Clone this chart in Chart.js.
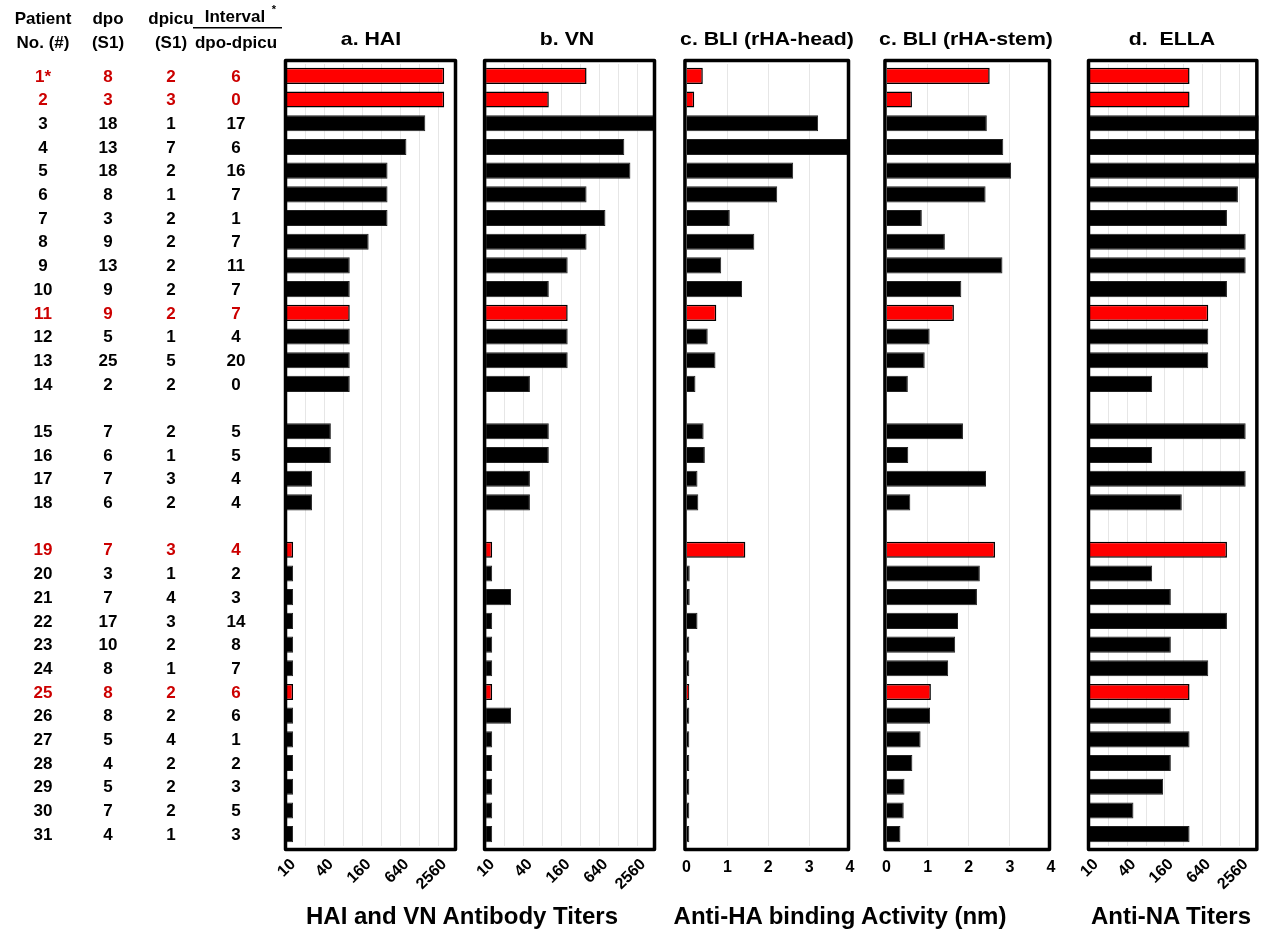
<!DOCTYPE html>
<html>
<head>
<meta charset="utf-8">
<script src="https://cdn.jsdelivr.net/npm/chart.js@4.4.1/dist/chart.umd.min.js"></script>
<style>
  body { margin: 0; background: #fff; width: 1269px; height: 936px; position: relative; overflow: hidden;
         font-family: "Liberation Sans", Arial, sans-serif; color: #000; }
  canvas { position: absolute; top: 0; }
  .title { position: absolute; top: 28px; font-weight: bold; font-size: 19px; white-space: nowrap; transform: translateX(-50%) scaleX(1.12); }
  .xlabel { position: absolute; top: 902px; font-weight: bold; font-size: 24px; white-space: nowrap; transform: translateX(-50%); }
</style>
</head>
<body>
<canvas id="hai" width="470" height="936" style="left:0"></canvas>
<canvas id="vn" width="200" height="936" style="left:470px"></canvas>
<canvas id="head" width="200" height="936" style="left:670px"></canvas>
<canvas id="stem" width="200" height="936" style="left:870px"></canvas>
<canvas id="ella" width="199" height="936" style="left:1070px"></canvas>

<div class="title" style="left:371px">a. HAI</div>
<div class="title" style="left:567px">b. VN</div>
<div class="title" style="left:767px">c. BLI (rHA-head)</div>
<div class="title" style="left:966px">c. BLI (rHA-stem)</div>
<div class="title" style="left:1172px">d.&nbsp; ELLA</div>

<div class="xlabel" style="left:462px">HAI and VN Antibody Titers</div>
<div class="xlabel" style="left:840px">Anti-HA binding Activity (nm)</div>
<div class="xlabel" style="left:1171px">Anti-NA Titers</div>

<script>
// patient table
const patients = ['1*','2','3','4','5','6','7','8','9','10','11','12','13','14',
                  '15','16','17','18',
                  '19','20','21','22','23','24','25','26','27','28','29','30','31'];
const dpo      = [8,3,18,13,18,8,3,9,13,9,9,5,25,2, 7,6,7,6, 7,3,7,17,10,8,8,8,5,4,5,7,4];
const dpicu    = [2,3,1,7,2,1,2,2,2,2,2,1,5,2, 2,1,3,2, 3,1,4,3,2,1,2,2,4,2,2,2,1];
const interval = [6,0,17,6,16,7,1,7,11,7,7,4,20,0, 5,5,4,4, 4,2,3,14,8,7,6,6,1,2,3,5,3];
const highlighted = ['1*','2','11','19','25'];
const groupSizes = [14, 4, 13];   // blank row between groups

// measurements (one value per patient)
const haiTiters  = [2560,2560,1280,640,320,320,320,160,80,80,80,80,80,80, 40,40,20,20, 10,10,10,10,10,10,10,10,10,10,10,10,10];
const vnTiters   = [320,80,5120,1280,1600,320,640,320,160,80,160,160,160,40, 80,80,40,40, 10,10,20,10,10,10,10,20,10,10,10,10,10];
const bliHead    = [0.40,0.19,3.22,4.2,2.61,2.22,1.06,1.66,0.85,1.36,0.73,0.52,0.71,0.22, 0.42,0.45,0.27,0.29,
                    1.44,0.08,0.08,0.27,0.07,0.07,0.07,0.07,0.07,0.07,0.07,0.07,0.07];
const bliStem    = [2.51,0.62,2.44,2.84,3.03,2.41,0.86,1.42,2.82,1.82,1.64,1.05,0.93,0.52, 1.86,0.53,2.42,0.58,
                    2.64,2.27,2.20,1.74,1.67,1.50,1.08,1.06,0.83,0.63,0.44,0.42,0.34];
const ellaTiters = [320,320,5120,5120,5120,1920,1280,2560,2560,1280,640,640,640,80, 2560,80,2560,240,
                    1280,80,160,1280,160,640,320,160,320,160,120,40,320];

// axes
const titerMin = 8, titerMax = 4096;
const titerGridLines = [16, 32, 64, 128, 256, 512, 1024, 2048];
const titerTickLabels = [10, 40, 160, 640, 2560];
const bliTicks = [0, 1, 2, 3, 4];

const FONT = '"Liberation Sans", Arial, sans-serif';

// insert the blank rows between patient groups
function withGaps(arr) {
  const out = [];
  let k = 0;
  groupSizes.forEach((n, g) => {
    if (g > 0) out.push(null);
    for (let i = 0; i < n; i++) out.push(arr[k++]);
  });
  return out;
}
const rowLabels = withGaps(patients);
const rowIndex = withGaps(patients.map((p, i) => i));

const fillColors = rowLabels.map(p => highlighted.includes(p) ? '#ff0000' : '#000000');
const edgeColors = rowLabels.map(p => highlighted.includes(p) ? '#000000' : '#222222');
const edgeWidths = rowLabels.map(p => highlighted.includes(p) ? 1.5 : 1);

const framePlugin = {
  id: 'frame',
  afterDatasetsDraw(chart) {
    const { ctx, chartArea: a } = chart;
    ctx.save();
    ctx.lineWidth = 3.5;
    ctx.lineJoin = 'round';
    ctx.strokeStyle = '#000';
    ctx.strokeRect(a.left - 1.5, a.top - 3.5, a.right - a.left, a.bottom - a.top + 7);
    ctx.restore();
  }
};

const tablePlugin = {
  id: 'patientTable',
  afterDraw(chart) {
    const ctx = chart.ctx, y = chart.scales.y;
    const cols = [43, 108, 171, 236];
    ctx.save();
    ctx.fillStyle = '#000';
    ctx.textAlign = 'center';
    ctx.textBaseline = 'alphabetic';
    ctx.font = 'bold 17px ' + FONT;
    ctx.fillText('Patient', cols[0], 24);
    ctx.fillText('No. (#)', cols[0], 48);
    ctx.fillText('dpo', cols[1], 24);
    ctx.fillText('(S1)', cols[1], 48);
    ctx.fillText('dpicu', cols[2], 24);
    ctx.fillText('(S1)', cols[2], 48);
    ctx.fillText('Interval', cols[3] - 1, 22);
    ctx.font = 'bold 11px ' + FONT;
    ctx.fillText('*', cols[3] + 38, 13);
    ctx.font = 'bold 17px ' + FONT;
    ctx.fillText('dpo-dpicu', cols[3], 48);
    ctx.fillRect(193, 27, 89, 1.5);

    ctx.font = 'bold 17px ' + FONT;
    ctx.textBaseline = 'middle';
    rowIndex.forEach((idx, slot) => {
      if (idx === null) return;
      const py = y.getPixelForValue(slot) + 1;
      ctx.fillStyle = highlighted.includes(patients[idx]) ? '#cc0000' : '#000';
      ctx.fillText(patients[idx], cols[0], py);
      ctx.fillText(dpo[idx], cols[1], py);
      ctx.fillText(dpicu[idx], cols[2], py);
      ctx.fillText(interval[idx], cols[3], py);
    });
    ctx.restore();
  }
};

function titerAxis() {
  return {
    type: 'logarithmic',
    min: titerMin,
    max: titerMax,
    afterBuildTicks: s => {
      s.ticks = titerGridLines.concat(titerTickLabels).sort((a, b) => a - b).map(v => ({ value: v }));
    },
    afterFit: s => { s.height = 50; },
    border: { display: false },
    grid: {
      drawTicks: false,
      color: c => (c.tick && titerGridLines.includes(c.tick.value)) ? '#e6e6e6' : 'rgba(0,0,0,0)'
    },
    ticks: {
      autoSkip: false,
      minRotation: 45,
      maxRotation: 45,
      padding: 9,
      color: '#000',
      font: { family: FONT, size: 16, weight: 'bold' },
      callback: v => titerTickLabels.includes(v) ? String(v) : ''
    }
  };
}

function bliAxis() {
  return {
    type: 'linear',
    min: 0,
    max: 4,
    afterBuildTicks: s => { s.ticks = bliTicks.map(v => ({ value: v })); },
    afterFit: s => { s.height = 50; },
    border: { display: false },
    grid: {
      drawTicks: false,
      color: c => (c.tick && c.tick.value > 0 && c.tick.value < 4) ? '#e6e6e6' : 'rgba(0,0,0,0)'
    },
    ticks: {
      autoSkip: false,
      maxRotation: 0,
      padding: 12,
      color: '#000',
      font: { family: FONT, size: 16, weight: 'bold' }
    }
  };
}

function makePanel(id, values, xAxis, padding, extraPlugins) {
  const ctx = document.getElementById(id).getContext('2d');
  return new Chart(ctx, {
    type: 'bar',
    data: {
      labels: rowLabels.map(l => l || ''),
      datasets: [{
        data: withGaps(values),
        backgroundColor: fillColors,
        borderColor: edgeColors,
        borderWidth: edgeWidths,
        barPercentage: 0.68,
        categoryPercentage: 1.0,
        clip: 0
      }]
    },
    options: {
      indexAxis: 'y',
      responsive: false,
      animation: false,
      layout: { padding: padding },
      scales: {
        x: xAxis,
        y: { display: false }
      },
      plugins: {
        legend: { display: false },
        tooltip: { enabled: false }
      }
    },
    plugins: [framePlugin].concat(extraPlugins || [])
  });
}

makePanel('hai',  haiTiters,  titerAxis(), { left: 287, right: 13, top: 64, bottom: 40 }, [tablePlugin]);
makePanel('vn',   vnTiters,   titerAxis(), { left: 16, right: 14, top: 64, bottom: 40 });
makePanel('head', bliHead,    bliAxis(),   { left: 15, right: 20, top: 64, bottom: 40 });
makePanel('stem', bliStem,    bliAxis(),   { left: 12, right: 19, top: 64, bottom: 40 });
makePanel('ella', ellaTiters, titerAxis(), { left: 20, right: 10, top: 64, bottom: 40 });
</script>
</body>
</html>
